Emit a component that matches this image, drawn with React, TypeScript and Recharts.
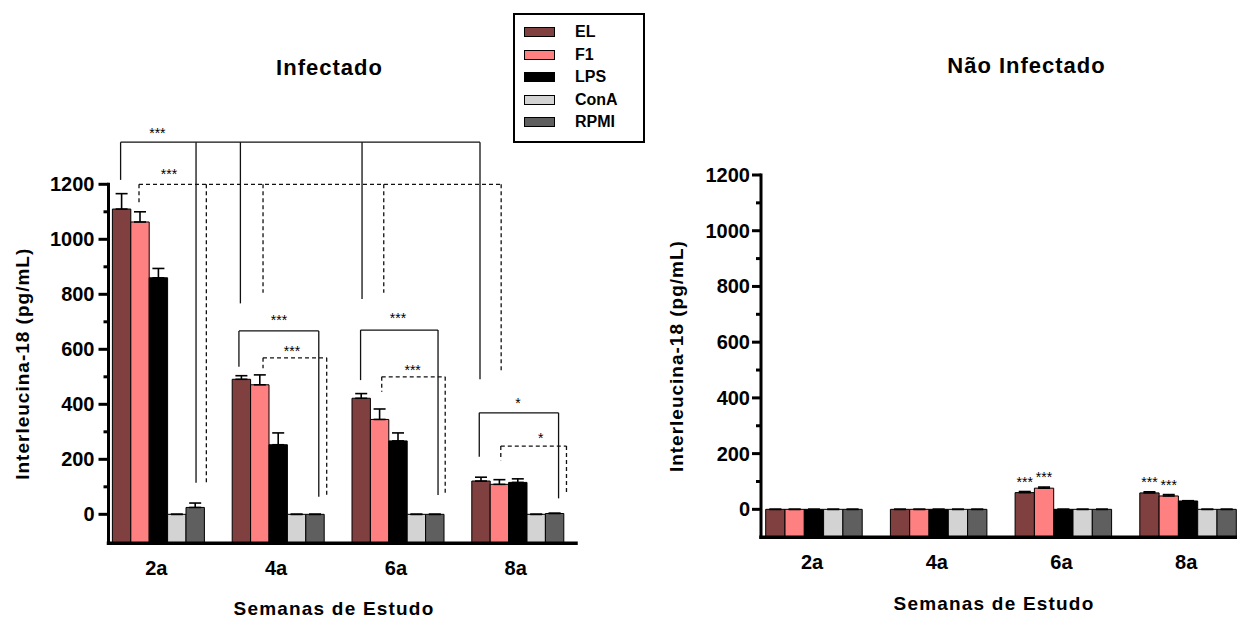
import React from 'react';
import { BarChart, Bar, XAxis, YAxis, ErrorBar, Legend, ReferenceLine, ReferenceDot, LabelList } from 'recharts';

const FONT = '"Liberation Sans", Arial, Helvetica, sans-serif';

const weeks = ['2a', '4a', '6a', '8a'];
const seriesKeys = ['el', 'f1', 'lps', 'cona', 'rpmi'];
const seriesNames = ['EL', 'F1', 'LPS', 'ConA', 'RPMI'];
const seriesColors = ['#804040', '#ff8080', '#000000', '#d3d3d3', '#5f5f5f'];
const yTicks = [0, 100, 200, 300, 400, 500, 600, 700, 800, 900, 1000, 1100, 1200];

// Infectado: mean and upper error
const infEL = [1110, 491, 422, 121];
const infF1 = [1063, 471, 345, 109];
const infLPS = [860, 253, 267, 116];
const infConA = [0, 0, 0, 0];
const infRPMI = [25, 0, 0, 3];
const infELErr = [56, 13, 17, 14];
const infF1Err = [37, 36, 38, 17];
const infLPSErr = [34, 43, 29, 13];
const infConAErr = [0, 0, 0, 0];
const infRPMIErr = [16, 0, 0, 1];

// Não Infectado
const nonEL = [0, 0, 60, 59];
const nonF1 = [0, 0, 76, 48];
const nonLPS = [0, 0, 0, 30];
const nonConA = [0, 0, 0, 0];
const nonRPMI = [0, 0, 0, 0];
const nonELErr = [0, 0, 4, 4];
const nonF1Err = [0, 0, 4, 5];
const nonLPSErr = [0, 0, 0, 1];
const nonConAErr = [0, 0, 0, 0];
const nonRPMIErr = [0, 0, 0, 0];
const nonELSig = ['', '', '***', '***'];
const nonF1Sig = ['', '', '***', '***'];

// significance brackets on the Infectado panel: [group, bar slot, value]
const bracketLevel = [1353, 1200, 667, 569, 670, 500, 369, 248];
const bracketDashed = [false, true, false, true, false, true, false, true];
const bracketText = ['***', '***', '***', '***', '***', '***', '*', '*'];
const bracketTextAt = [
  [0, 2, 1387], [0, 2.63, 1237], [1, 2.1, 707], [1, 2.8, 595],
  [2, 2.05, 714], [2, 2.85, 526], [3, 2.07, 405], [3, 3.3, 278],
];
const bracketLegs = [
  [[0, 0, 1216], [0, 4.1, 115], [1, 0, 767], [2, 0.1, 783], [3, 0, 491]],
  [[0, 1, 1125], [0, 4.66, 115], [1, 1.23, 806], [2, 1.28, 806], [3, 1.15, 519]],
  [[1, -0.08, 537], [1, 4.26, 64]],
  [[1, 1.23, 531], [1, 4.69, 64]],
  [[2, 0.02, 488], [2, 4.23, 70]],
  [[2, 1.17, 446], [2, 4.62, 70]],
  [[3, -0.04, 209], [3, 4.27, 58]],
  [[3, 1.13, 197], [3, 4.7, 70]],
];

const buildRows = (vals: number[][], errs: number[][], sigs: string[][] = []) =>
  weeks.map((week, i) => {
    const row: Record<string, any> = { week };
    seriesKeys.forEach((k, s) => {
      row[k] = vals[s][i];
      row[k + 'Err'] = errs[s][i];
      row[k + 'Sig'] = sigs[s] ? sigs[s][i] : '';
    });
    return row;
  });

const infRows = buildRows(
  [infEL, infF1, infLPS, infConA, infRPMI],
  [infELErr, infF1Err, infLPSErr, infConAErr, infRPMIErr]
);
const nonRows = buildRows(
  [nonEL, nonF1, nonLPS, nonConA, nonRPMI],
  [nonELErr, nonF1Err, nonLPSErr, nonConAErr, nonRPMIErr],
  [nonELSig, nonF1Sig]
);

// bar layout inside a category band (px)
const BAND = 119.8;
const BAR_OFF = 13;
const BAR_W = 18.4;
// the hidden numeric axis spans the row indexes [0, n-1] over the full band range
const slotPos = (g: number, s: number) =>
  ((g + (BAR_OFF + BAR_W * (s + 0.5)) / BAND) * (weeks.length - 1)) / weeks.length;

const yTick = (gap: number, majorLen: number, size: number) => (props: any) => {
  const { x, y, payload } = props;
  const v = payload.value;
  const major = v % 200 === 0;
  return (
    <g>
      <line x1={x - (major ? majorLen : 5)} y1={y} x2={x} y2={y} stroke="#000" strokeWidth={3} />
      {major && (
        <text x={x - gap} y={y + 7} textAnchor="end" fontSize={size} fontWeight="bold" fontFamily={FONT} fill="#000">
          {v}
        </text>
      )}
    </g>
  );
};

const xTick = (props: any) => {
  const { x, y, payload } = props;
  return (
    <text x={x - 2} y={y + 31.5} textAnchor="middle" fontSize={20} fontWeight="bold" fontFamily={FONT} fill="#000">
      {payload.value}
    </text>
  );
};

const yTitle = (offset: number) => ({
  value: 'Interleucina-18 (pg/mL)',
  angle: -90,
  position: 'insideLeft' as const,
  offset,
  fill: '#000',
  fontSize: 19,
  fontWeight: 'bold',
  fontFamily: FONT,
  style: { textAnchor: 'middle', letterSpacing: 1 },
});

const renderLegend = (props: any) => {
  const items = [...(props.payload || [])].sort(
    (a: any, b: any) => seriesNames.indexOf(a.value) - seriesNames.indexOf(b.value)
  );
  return (
    <div
      style={{
        width: 132, height: 130, boxSizing: 'border-box', border: '2px solid #000',
        background: '#fff', paddingTop: 6, fontFamily: FONT,
      }}
    >
      {items.map((p: any) => (
        <div key={p.value} style={{ display: 'flex', alignItems: 'center', height: 22.5 }}>
          <span
            style={{
              marginLeft: 9, width: 31, height: 10, boxSizing: 'border-box',
              background: p.color, border: '1px solid #000', display: 'inline-block',
            }}
          />
          <span style={{ marginLeft: 20, fontSize: 16, fontWeight: 'bold', color: '#000' }}>{p.value}</span>
        </div>
      ))}
    </div>
  );
};

const renderBars = (floor: number, barSize: number, withSig: boolean) =>
  seriesKeys.map((k, s) => (
    <Bar
      key={k}
      dataKey={(d: any) => [floor, d[k]]}
      name={seriesNames[s]}
      fill={seriesColors[s]}
      stroke="#000"
      strokeWidth={1}
      barSize={barSize}
      isAnimationActive={false}
    >
      <ErrorBar
        dataKey={(d: any) => [0, (d.payload ?? d)[k + 'Err']]}
        width={6}
        strokeWidth={1.6}
        stroke="#000"
        direction="y"
      />
      {withSig && (
        <LabelList dataKey={k + 'Sig'} position="top" offset={6} fill="#000" fontSize={14} fontFamily={FONT} />
      )}
    </Bar>
  ));

const renderBrackets = () =>
  bracketLevel.map((lvl, b) => {
    const legs = bracketLegs[b];
    const xs = legs.map(([g, s]) => slotPos(g, s));
    const dash = bracketDashed[b] ? '4 3' : undefined;
    const [tg, ts, ty] = bracketTextAt[b];
    return [
      <ReferenceLine
        key={`h${b}`}
        xAxisId="sig"
        segment={[{ x: Math.min(...xs), y: lvl }, { x: Math.max(...xs), y: lvl }]}
        stroke="#111"
        strokeWidth={1.3}
        strokeDasharray={dash}
        ifOverflow="visible"
      />,
      ...legs.map(([g, s, end], i) => (
        <ReferenceLine
          key={`v${b}-${i}`}
          xAxisId="sig"
          segment={[{ x: slotPos(g, s), y: lvl }, { x: slotPos(g, s), y: end }]}
          stroke="#111"
          strokeWidth={1.3}
          strokeDasharray={dash}
          ifOverflow="visible"
        />
      )),
      <ReferenceDot
        key={`t${b}`}
        xAxisId="sig"
        x={slotPos(tg, ts)}
        y={ty}
        r={0}
        fill="none"
        stroke="none"
        ifOverflow="visible"
        label={{ value: bracketText[b], position: 'center', fill: '#000', fontSize: 14, fontFamily: FONT }}
      />,
    ];
  });

const Title = ({ x, y, size, spacing, children }: any) => (
  <div
    style={{
      position: 'absolute', left: x, top: y, transform: 'translate(-50%, -50%)',
      fontFamily: FONT, fontWeight: 'bold', fontSize: size, letterSpacing: spacing,
      lineHeight: 1, whiteSpace: 'nowrap', color: '#000',
    }}
  >
    {children}
  </div>
);

export default function App() {
  return (
    <div
      style={{
        position: 'absolute', left: 0, top: 0, width: 1237, height: 619,
        overflow: 'hidden', background: '#fff',
      }}
    >
      <div style={{ position: 'absolute', left: 0, top: 0 }}>
        <BarChart
          width={600}
          height={619}
          data={infRows}
          margin={{ top: 184.3, right: 24, left: 0, bottom: 0 }}
          barGap={0}
        >
          <XAxis
            dataKey="week"
            padding={{ left: -10.1, right: -1.6 }}
            height={75.8}
            tickLine={false}
            tickSize={0}
            tickMargin={0}
            interval={0}
            tick={xTick}
            axisLine={{ stroke: '#000', strokeWidth: 3.5, strokeLinecap: 'square' }}
          />
          <XAxis
            xAxisId="sig"
            type="number"
            domain={[0, weeks.length - 1]}
            allowDataOverflow
            hide
            padding={{ left: -10.1, right: -1.6 }}
          />
          <YAxis
            type="number"
            domain={[-105, 1200]}
            allowDataOverflow
            ticks={yTicks}
            interval={0}
            width={108.5}
            tickLine={false}
            tickSize={0}
            tickMargin={0}
            tick={yTick(14, 10, 20)}
            axisLine={{ stroke: '#000', strokeWidth: 3, strokeLinecap: 'square' }}
            label={yTitle(22)}
          />
          {renderBars(-105, BAR_W, false)}
          {renderBrackets()}
          <Legend
            layout="horizontal"
            verticalAlign="middle"
            align="center"
            content={renderLegend}
            wrapperStyle={{ left: 513, top: 13, width: 132, height: 130 }}
          />
        </BarChart>
      </div>

      <div style={{ position: 'absolute', left: 600, top: 0 }}>
        <BarChart
          width={660}
          height={619}
          data={nonRows}
          margin={{ top: 175, right: 9.5, left: 0, bottom: 0 }}
          barGap={0}
        >
          <XAxis
            dataKey="week"
            padding={{ left: -9.3, right: 0 }}
            height={81.8}
            tickLine={false}
            tickSize={0}
            tickMargin={0}
            interval={0}
            tick={xTick}
            axisLine={{ stroke: '#000', strokeWidth: 3.5, strokeLinecap: 'square' }}
          />
          <YAxis
            type="number"
            domain={[-100, 1200]}
            allowDataOverflow
            ticks={yTicks}
            interval={0}
            width={161}
            tickLine={false}
            tickSize={0}
            tickMargin={0}
            tick={yTick(11, 9, 20)}
            axisLine={{ stroke: '#000', strokeWidth: 3, strokeLinecap: 'square' }}
            label={yTitle(76)}
          />
          {renderBars(-100, 19.3, true)}
        </BarChart>
      </div>

      <Title x={329.5} y={68} size={22} spacing={1}>Infectado</Title>
      <Title x={1026.5} y={66} size={22} spacing={1}>Não Infectado</Title>
      <Title x={334} y={608} size={19} spacing={1.2}>Semanas de Estudo</Title>
      <Title x={994} y={603} size={19} spacing={1.2}>Semanas de Estudo</Title>
    </div>
  );
}
